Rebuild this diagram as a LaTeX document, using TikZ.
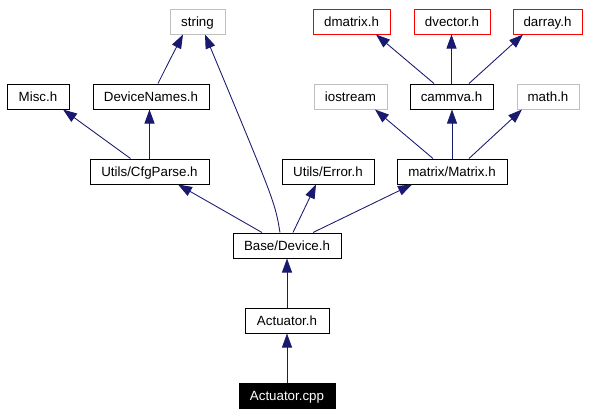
\documentclass[tikz,border=0pt]{standalone}
\usepackage{fontspec}
\setmainfont{Liberation Sans}
\usetikzlibrary{arrows.meta,calc}
\definecolor{edgeblue}{RGB}{25,25,112}
\definecolor{boxgrey}{RGB}{191,191,191}
\definecolor{boxred}{RGB}{255,0,0}
\begin{document}
\begin{tikzpicture}[x=0.75pt,y=-0.75pt,
  box/.style={draw=black,line width=0.75pt,minimum height=18.75pt,inner sep=0pt,text height=7.2pt,text depth=0pt,font=\fontsize{10}{12}\selectfont,fill=white},
  greybox/.style={box,draw=boxgrey},
  redbox/.style={box,draw=boxred},
  mainbox/.style={box,fill=black,text=white},
  edge/.style={draw=edgeblue,line width=0.65pt,-{Triangle[length=10.5pt,width=7.5pt]}}]
\useasboundingbox (0,0) rectangle (589,415);
\fill[white] (0,0) rectangle (589,415);
% row 1
\node[greybox,minimum width=41.25pt] (string) at (197.5,21.5) {string};
\node[redbox,minimum width=57.75pt] (dmatrix) at (351.5,21.5) {dmatrix.h};
\node[redbox,minimum width=57pt] (dvector) at (452,21.5) {dvector.h};
\node[redbox,minimum width=51.75pt] (darray) at (547.5,21.5) {darray.h};
% row 2
\node[box,minimum width=46.5pt] (misc) at (38,96.5) {Misc.h};
\node[box,minimum width=87pt] (devn) at (151,96.5) {DeviceNames.h};
\node[greybox,minimum width=54.75pt] (iostream) at (350.5,96.5) {iostream};
\node[box,minimum width=62.25pt] (cammva) at (451.5,96.5) {cammva.h};
\node[greybox,minimum width=46.5pt] (math) at (548,96.5) {math.h};
% row 3
\node[box,minimum width=89.25pt] (cfg) at (149.5,171.5) {Utils/CfgParse.h};
\node[box,minimum width=69pt] (err) at (328,171.5) {Utils/Error.h};
\node[box,minimum width=82.5pt] (matrix) at (452,171.5) {matrix/Matrix.h};
% lower rows
\node[box,minimum width=81pt] (base) at (287,245.5) {Base/Device.h};
\node[box,minimum width=63pt] (acth) at (287,320.5) {Actuator.h};
\node[mainbox,minimum width=72pt] (cpp) at (287,395.5) {Actuator.cpp};
% edges
\draw[edge] (cpp.north) -- (acth.south);
\draw[edge] (acth.north) -- (base.south);
\draw[edge] ($(base.north)+(-25,0)$) -- ($(cfg.south)+(28.5,0)$);
\draw[edge] ($(base.north)+(-7,0)$) .. controls ($(base.north)+(-12,-30)$) .. ($(string.south)+(7.5,0)$);
\draw[edge] ($(base.north)+(6,0)$) -- ($(err.south)+(-12,0)$);
\draw[edge] ($(base.north)+(26,0)$) -- ($(matrix.south)+(-40,0)$);
\draw[edge] ($(cfg.north)+(-19,0)$) -- ($(misc.south)+(25,0)$);
\draw[edge] (cfg.north) -- ($(devn.south)+(-1.5,0)$);
\draw[edge] ($(devn.north)+(7,0)$) .. controls ($(devn.north)+(18,-22)$) .. ($(string.south)+(-14.5,0)$);
\draw[edge] ($(matrix.north)+(-19,0)$) -- ($(iostream.south)+(24.5,0)$);
\draw[edge] (matrix.north) -- ($(cammva.south)+(0.5,0)$);
\draw[edge] ($(matrix.north)+(17,0)$) -- ($(math.south)+(-26,0)$);
\draw[edge] ($(cammva.north)+(-17.5,0)$) -- ($(dmatrix.south)+(24.5,0)$);
\draw[edge] (cammva.north) -- ($(dvector.south)+(-0.5,0)$);
\draw[edge] ($(cammva.north)+(17.5,0)$) -- ($(darray.south)+(-24.5,0)$);
\end{tikzpicture}
\end{document}
